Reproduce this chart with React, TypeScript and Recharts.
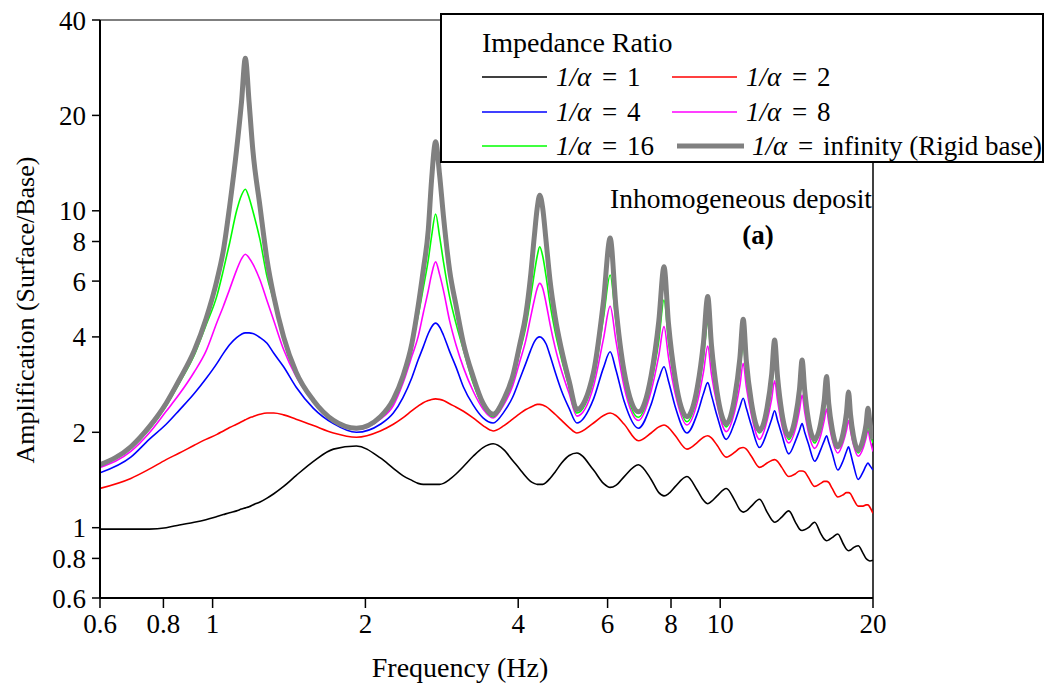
import React from 'react'
import { LineChart, Line, XAxis, YAxis, ReferenceLine, Label } from 'recharts'

// frequency grid (Hz), shared by all six curves
const freq = [
  0.6, 0.69, 0.75, 0.81, 0.86, 0.92, 0.97, 1.02, 1.05, 1.08, 1.115, 1.14, 1.16, 1.18, 1.2, 1.24, 1.28, 1.32, 1.38, 1.46, 1.58, 1.73, 1.92,
  2.14, 2.27, 2.37, 2.47, 2.54, 2.6, 2.66, 2.7, 2.75, 2.8, 2.85, 2.93, 3.02, 3.12, 3.26, 3.41, 3.57,
  3.75, 3.9, 4.03, 4.14, 4.23, 4.3, 4.36, 4.41, 4.47, 4.54, 4.62, 4.73, 4.87, 5.04, 5.22,
  5.63, 5.89, 6.07, 6.23, 6.47, 6.9,
  7.31, 7.57, 7.75, 7.91, 8.16, 8.6,
  9.02, 9.27, 9.45, 9.61, 9.86, 10.28,
  10.68, 10.93, 11.1, 11.26, 11.52, 11.95,
  12.37, 12.63, 12.8, 12.97, 13.22, 13.65,
  14.07, 14.33, 14.5, 14.67, 14.92, 15.35,
  15.77, 16.03, 16.2, 16.36, 16.62, 17.05,
  17.47, 17.73, 17.9, 18.06, 18.3, 18.7,
  19.12, 19.38, 19.55, 19.72, 20,
]

// 1/alpha = 1
const ratio1 = [
  0.99, 0.99, 0.99, 1.0, 1.02, 1.04, 1.06, 1.085, 1.1, 1.115, 1.13, 1.145, 1.155, 1.165, 1.18, 1.205, 1.24, 1.28, 1.35, 1.46, 1.62, 1.77, 1.81,
  1.66, 1.54, 1.46, 1.41, 1.38, 1.37, 1.37, 1.37, 1.37, 1.37, 1.38, 1.42, 1.48, 1.56, 1.68, 1.79, 1.84,
  1.76, 1.63, 1.53, 1.45, 1.4, 1.38, 1.37, 1.37, 1.37, 1.39, 1.43, 1.5, 1.6, 1.69, 1.72,
  1.52, 1.38, 1.34, 1.36, 1.45, 1.58,
  1.42, 1.29, 1.26, 1.28, 1.35, 1.45,
  1.31, 1.22, 1.19, 1.21, 1.26, 1.33,
  1.22, 1.14, 1.12, 1.13, 1.17, 1.23,
  1.12, 1.06, 1.04, 1.05, 1.08, 1.13,
  1.04, 0.99, 0.98, 0.985, 1.0, 1.04,
  0.96, 0.92, 0.91, 0.915, 0.93, 0.955,
  0.89, 0.855, 0.846, 0.85, 0.865, 0.877,
  0.83, 0.8, 0.79, 0.785, 0.79,
]

// 1/alpha = 2
const ratio2 = [
  1.33, 1.43, 1.53, 1.64, 1.72, 1.82, 1.9, 1.97, 2.02, 2.07, 2.12, 2.16, 2.19, 2.22, 2.24, 2.28, 2.3, 2.3, 2.27, 2.2, 2.1, 1.99, 1.93,
  2.02, 2.12, 2.22, 2.34, 2.42, 2.48, 2.52, 2.54, 2.55, 2.54, 2.52, 2.46, 2.4, 2.33, 2.22, 2.1, 2.02,
  2.1, 2.2, 2.29, 2.36, 2.4, 2.43, 2.45, 2.45, 2.44, 2.41, 2.36, 2.28, 2.18, 2.07, 1.99,
  2.14, 2.26, 2.3, 2.26, 2.12, 1.88,
  1.99, 2.08, 2.11, 2.07, 1.95, 1.77,
  1.86, 1.93, 1.95, 1.92, 1.82, 1.67,
  1.73, 1.78, 1.79, 1.77, 1.68, 1.55,
  1.6, 1.63, 1.64, 1.62, 1.55, 1.45,
  1.48, 1.51, 1.51, 1.5, 1.44, 1.35,
  1.38, 1.4, 1.4, 1.39, 1.33, 1.25,
  1.27, 1.29, 1.29, 1.28, 1.23, 1.17,
  1.17, 1.18, 1.18, 1.16, 1.11,
]

// 1/alpha = 4
const ratio4 = [
  1.49, 1.67, 1.9, 2.12, 2.35, 2.65, 2.95, 3.3, 3.55, 3.78, 3.98, 4.08, 4.12, 4.12, 4.1, 3.98, 3.82, 3.55, 3.22, 2.78, 2.38, 2.13, 2.0,
  2.12, 2.3, 2.57, 2.98, 3.38, 3.72, 4.1, 4.3, 4.42, 4.3, 4.05, 3.6, 3.2, 2.78, 2.44, 2.22, 2.14,
  2.32, 2.58, 2.95, 3.3, 3.62, 3.85, 3.97, 4.0, 3.95, 3.8, 3.5, 3.1, 2.7, 2.38, 2.14,
  2.55, 3.2, 3.59, 3.15, 2.5, 2.06,
  2.45, 2.95, 3.22, 2.9, 2.4, 1.99,
  2.3, 2.65, 2.87, 2.62, 2.25, 1.9,
  2.15, 2.4, 2.56, 2.38, 2.1, 1.79,
  2.0, 2.2, 2.34, 2.18, 1.97, 1.71,
  1.88, 2.03, 2.13, 2.0, 1.84, 1.62,
  1.76, 1.88, 1.95, 1.86, 1.72, 1.52,
  1.63, 1.74, 1.8, 1.72, 1.58, 1.42,
  1.5, 1.57, 1.6, 1.57, 1.52,
]

// 1/alpha = 8
const ratio8 = [
  1.55, 1.74, 1.99, 2.33, 2.64, 3.1, 3.6, 4.45, 5.0, 5.65, 6.5, 7.05, 7.29, 7.1, 6.8, 6.05, 5.2, 4.5, 3.65, 3.0, 2.5, 2.18, 2.04,
  2.2, 2.43, 2.85, 3.48, 4.0, 4.75, 5.6, 6.3, 6.9, 6.3, 5.6, 4.5, 3.75, 3.2, 2.7, 2.37, 2.22,
  2.45, 2.8, 3.35, 3.9, 4.6, 5.2, 5.7, 5.9, 5.7, 5.1, 4.4, 3.7, 3.12, 2.65, 2.25,
  2.8, 3.95, 5.0, 3.9, 2.78, 2.18,
  2.7, 3.5, 4.31, 3.45, 2.64, 2.11,
  2.5, 3.1, 3.74, 3.05, 2.45, 2.01,
  2.33, 2.8, 3.3, 2.78, 2.27, 1.9,
  2.18, 2.55, 2.91, 2.52, 2.12, 1.85,
  2.05, 2.35, 2.62, 2.32, 2.0, 1.78,
  1.95, 2.18, 2.37, 2.15, 1.9, 1.72,
  1.86, 2.03, 2.18, 2.02, 1.83, 1.68,
  1.78, 1.92, 2.03, 1.9, 1.74,
]

// 1/alpha = 16
const ratio16 = [
  1.57, 1.78, 2.04, 2.42, 2.86, 3.5, 4.35, 5.4, 6.5, 7.9, 10.0, 11.2, 11.7, 11.0, 10.0, 8.1, 6.2, 5.2, 3.9, 3.1, 2.5, 2.16, 2.05,
  2.22, 2.5, 2.98, 3.78, 4.65, 5.7, 7.0, 8.3, 9.77, 8.3, 6.9, 5.36, 4.38, 3.64, 2.86, 2.42, 2.24,
  2.52, 2.92, 3.6, 4.3, 5.3, 6.3, 7.2, 7.7, 7.2, 6.2, 5.1, 4.15, 3.4, 2.78, 2.3,
  2.95, 4.6, 6.27, 4.5, 2.95, 2.23,
  2.85, 3.9, 5.23, 3.85, 2.8, 2.16,
  2.65, 3.45, 4.42, 3.4, 2.58, 2.08,
  2.48, 3.1, 3.8, 3.05, 2.42, 1.99,
  2.3, 2.8, 3.32, 2.78, 2.26, 1.9,
  2.16, 2.55, 3.0, 2.52, 2.12, 1.85,
  2.06, 2.32, 2.59, 2.3, 2.0, 1.78,
  1.95, 2.16, 2.36, 2.15, 1.9, 1.72,
  1.84, 1.98, 2.11, 1.98, 1.85,
]

// 1/alpha = infinity (rigid base)
const rigid = [
  1.58, 1.8, 2.08, 2.47, 2.93, 3.62, 4.55, 6.05, 7.5, 10.3, 15.6, 22, 30.3, 22, 15.6, 10.3, 7.0, 5.36, 4.0, 3.1, 2.52, 2.18, 2.06,
  2.24, 2.54, 3.0, 3.82, 4.99, 6.5, 8.7, 12.5, 16.5, 13.0, 9.6, 6.5, 4.99, 3.82, 3.0, 2.47, 2.28,
  2.55, 3.0, 3.8, 4.7, 6.2, 8.2, 10.2, 11.2, 10.2, 8.0, 6.05, 4.63, 3.64, 2.9, 2.36,
  3.1, 5.2, 8.2, 5.0, 3.1, 2.32,
  3.02, 4.5, 6.66, 4.4, 2.94, 2.24,
  2.79, 3.85, 5.36, 3.78, 2.68, 2.13,
  2.58, 3.41, 4.55, 3.35, 2.49, 2.03,
  2.39, 3.05, 3.91, 3.0, 2.32, 1.95,
  2.24, 2.74, 3.38, 2.72, 2.19, 1.9,
  2.13, 2.52, 3.0, 2.47, 2.05, 1.8,
  1.99, 2.3, 2.68, 2.28, 1.95, 1.76,
  1.9, 2.12, 2.38, 2.15, 1.9,
]

const xTicks = [0.6, 0.8, 1, 2, 4, 6, 8, 10, 20]
const yTicks = [0.6, 0.8, 1, 2, 4, 6, 8, 10, 20, 40]

const data = freq.map((f, i) => ({
  f,
  r1: ratio1[i],
  r2: ratio2[i],
  r4: ratio4[i],
  r8: ratio8[i],
  r16: ratio16[i],
  rigid: rigid[i],
}))

const series = [
  { key: 'r1', label: '1', color: '#000000', width: 1.6 },
  { key: 'r2', label: '2', color: '#ff0000', width: 1.6 },
  { key: 'r4', label: '4', color: '#0000ff', width: 1.6 },
  { key: 'r8', label: '8', color: '#ff00ff', width: 1.6 },
  { key: 'r16', label: '16', color: '#00ff00', width: 1.6 },
  { key: 'rigid', label: 'infinity (Rigid base)', color: '#808080', width: 5 },
]

const serif = '"Liberation Serif", "Times New Roman", serif'

const YTitle = () => (
  <text
    x={28}
    y={310}
    transform="rotate(-90, 28, 310)"
    textAnchor="middle"
    dominantBaseline="middle"
    fontFamily={serif}
    fontSize={26}
    fill="#000"
  >
    Amplification (Surface/Base)
  </text>
)

const XTitle = () => (
  <text x={460} y={677} textAnchor="middle" fontFamily={serif} fontSize={28} fill="#000">
    Frequency (Hz)
  </text>
)

const LegendBox = () => {
  const rows = [77, 112, 146]
  return (
    <svg
      width={1046}
      height={689}
      style={{ position: 'absolute', left: 0, top: 0, pointerEvents: 'none' }}
    >
      <rect x={441} y={14} width={602} height={148} fill="#fff" stroke="#000" strokeWidth={2} />
      <text x={482} y={52} fontFamily={serif} fontSize={28} fill="#000">
        Impedance Ratio
      </text>
      {series.map((s, i) => {
        const col = i % 2
        const y = rows[Math.floor(i / 2)]
        const isRigid = s.key === 'rigid'
        const x0 = col === 0 ? 482 : isRigid ? 677 : 672
        const x1 = col === 0 ? 547 : isRigid ? 744 : 737
        const tx = col === 0 ? 556 : isRigid ? 752 : 746
        return (
          <g key={s.key}>
            <line x1={x0} x2={x1} y1={y} y2={y} stroke={s.color} strokeWidth={s.width} />
            <text x={tx} y={y + 9} fontFamily={serif} fontSize={27} fill="#000">
              <tspan fontStyle="italic">1/α</tspan>
              <tspan dx={4}>{' ='}</tspan>
              <tspan dx={3}>{' ' + s.label}</tspan>
            </text>
          </g>
        )
      })}
      <text x={872} y={208} textAnchor="end" fontFamily={serif} fontSize={27.5} fill="#000">
        Inhomogeneous deposit
      </text>
      <text x={758} y={244} textAnchor="middle" fontFamily={serif} fontSize={27} fontWeight="bold" fill="#000">
        (a)
      </text>
    </svg>
  )
}

export default function App() {
  return (
    <div style={{ position: 'absolute', left: 0, top: 0, width: 1046, height: 689, background: '#fff' }}>
      <LineChart
        width={1046}
        height={689}
        data={data}
        margin={{ top: 20, right: 173, bottom: 51, left: 40 }}
      >
        <XAxis
          dataKey="f"
          type="number"
          scale="log"
          domain={[0.6, 20]}
          ticks={xTicks}
          allowDataOverflow
          height={40}
          tickSize={10}
          tickMargin={6}
          axisLine={{ stroke: '#000', strokeWidth: 2 }}
          tickLine={{ stroke: '#000', strokeWidth: 1.5 }}
          tick={{ fill: '#000', fontSize: 27, fontFamily: serif }}
          interval={0}
        >
          <Label content={<XTitle />} />
        </XAxis>
        <YAxis
          type="number"
          scale="log"
          domain={[0.6, 40]}
          ticks={yTicks}
          allowDataOverflow
          width={60}
          tickSize={8}
          tickMargin={6}
          axisLine={{ stroke: '#000', strokeWidth: 2 }}
          tickLine={{ stroke: '#000', strokeWidth: 1.5 }}
          tick={{ fill: '#000', fontSize: 27, fontFamily: serif }}
          interval={0}
        >
          <Label content={<YTitle />} />
        </YAxis>
        <ReferenceLine y={40} stroke="#555" strokeWidth={1.5} />
        <ReferenceLine x={20} stroke="#000" strokeWidth={1.5} />
        {series.map((s) => (
          <Line
            key={s.key}
            dataKey={s.key}
            type="monotone"
            stroke={s.color}
            strokeWidth={s.width}
            dot={false}
            isAnimationActive={false}
          />
        ))}
      </LineChart>
      <LegendBox />
    </div>
  )
}
